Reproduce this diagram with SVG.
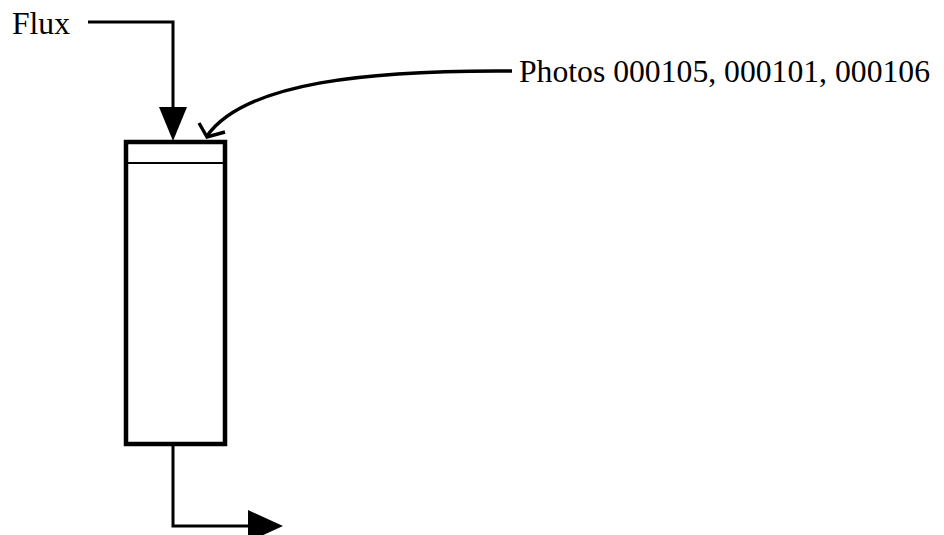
<svg xmlns="http://www.w3.org/2000/svg" width="944" height="535" viewBox="0 0 944 535">
<style>
.t{font-family:"Liberation Serif","Times New Roman",serif;font-size:31px;fill:#000}
.ln{fill:none;stroke:#000;stroke-width:3}
.bx{fill:none;stroke:#000;stroke-width:4.5}
</style>
<rect width="944" height="535" fill="#fff"/>
<g id="flux"><text class="t" x="12" y="34" textLength="58" lengthAdjust="spacingAndGlyphs">Flux</text></g>
<g id="photos"><text class="t" x="519" y="82" textLength="411" lengthAdjust="spacingAndGlyphs">Photos 000105, 000101, 000106</text></g>
<g id="column">
<rect class="bx" x="126" y="142" width="99" height="302"/>
<line x1="126" y1="163" x2="225" y2="163" stroke="#000" stroke-width="2.2"/>
</g>
<g id="connectors">
<polyline class="ln" points="88,22 173,22 173,110"/>
<polygon points="159,107 187,107 173,141" fill="#000"/>
<polyline class="ln" points="173,444 173,526 252,526"/>
<polygon points="248,510 283,526 248,542" fill="#000"/>
<path d="M512 71 C370 70 245 82 207 136" fill="none" stroke="#000" stroke-width="3.4"/>
<polyline points="199,123 207,137 225,132" fill="none" stroke="#000" stroke-width="3.4"/>
</g>
</svg>
